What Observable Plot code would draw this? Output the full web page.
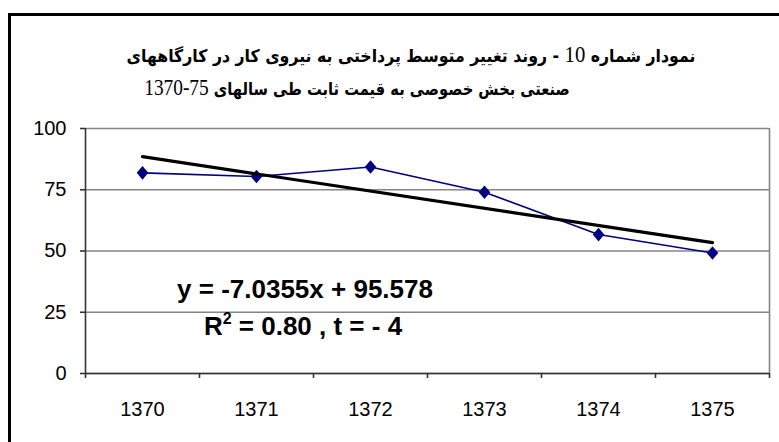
<!DOCTYPE html>
<html>
<head>
<meta charset="utf-8">
<script src="https://cdn.jsdelivr.net/npm/d3@7"></script>
<script src="https://cdn.jsdelivr.net/npm/@observablehq/plot@0.6"></script>
<style>
  html, body { margin: 0; padding: 0; background: #fff; overflow: hidden; }
  #wrap { position: relative; width: 779px; height: 442px; overflow: hidden; }
  #border { position: absolute; left: 8px; top: 13px; width: 800px; height: 460px; border: 3px solid #000; box-sizing: border-box; }
  #title { position: relative; height: 110px; }
  .tline { position: absolute; white-space: nowrap; direction: rtl;
           font-family: "DejaVu Sans", sans-serif; font-weight: bold; font-size: 17.5px; color: #000; }
  .num { font-family: "Liberation Serif", "DejaVu Serif", serif; font-weight: normal; font-size: 23px;
         direction: ltr; unicode-bidi: isolate; }
  .eq { position: absolute; transform: translate(-50%, -50%); white-space: nowrap;
        font-family: "Liberation Sans", Arial, sans-serif; font-weight: bold; font-size: 26px; color: #000; }
  .eq sup { font-size: 16px; vertical-align: 11px; line-height: 0; }
  #chart svg { display: block; }
</style>
</head>
<body>
<div id="wrap">
  <div id="border"></div>
  <div id="title"></div>
  <div id="chart"></div>
</div>
<script>
// ---- data ----
const years = [1370, 1371, 1372, 1373, 1374, 1375];
const payValues = [81.9, 80.4, 84.3, 74.0, 56.7, 49.2];
const trendYears = [1370, 1375];
const trendValues = [88.5, 53.4];
const yTicks = [0, 25, 50, 75, 100];
const categoryEdges = [1369.5, 1370.5, 1371.5, 1372.5, 1373.5, 1374.5, 1375.5];
const titleLine1 = ["نمودار شماره ", "10", " - روند تغییر متوسط پرداختی به نیروی کار در کارگاههای"];
const titleLine2 = ["صنعتی بخش خصوصی به قیمت ثابت طی سالهای ", "1370-75", ""];
const equationText = "y = -7.0355x + 95.578";
const r2Text = ["R", "2", " = 0.80 , t = - 4"];

// ---- title ----
const title = document.getElementById("title");
function addLine(parts, cx, cy, sx) {
  const d = document.createElement("div");
  d.className = "tline";
  d.style.left = cx + "px";
  d.style.top = cy + "px";
  d.style.transform = `translate(-50%, -50%) scaleX(${sx})`;
  const a = document.createElement("span"); a.textContent = parts[0];
  const n = document.createElement("span"); n.className = "num"; n.textContent = parts[1];
  const b = document.createElement("span"); b.textContent = parts[2];
  d.append(a, n, b);
  title.appendChild(d);
}
addLine(titleLine1, 411, 55, 0.9);
addLine(titleLine2, 357, 88, 0.84);

// ---- chart ----
const data = years.map((y, i) => ({year: y, value: payValues[i]}));
const trend = trendYears.map((y, i) => ({year: y, value: trendValues[i]}));

const diamond = {
  draw(ctx) {
    const w = 5.8, h = 6.8;
    ctx.moveTo(0, -h); ctx.lineTo(w, 0); ctx.lineTo(0, h); ctx.lineTo(-w, 0); ctx.closePath();
  }
};

const chart = Plot.plot({
  width: 779,
  height: 332,
  marginLeft: 85,
  marginRight: 10,
  marginTop: 18,
  marginBottom: 69,
  style: {fontFamily: "'Liberation Sans', Arial, sans-serif", fontSize: "20px", color: "#000", background: "transparent", overflow: "visible"},
  x: {domain: [d3.min(categoryEdges), d3.max(categoryEdges)]},
  y: {domain: [0, 100]},
  marks: [
    Plot.gridY(yTicks, {stroke: "#858585", strokeOpacity: 1, strokeWidth: 1.6}),
    Plot.ruleX([d3.max(categoryEdges)], {stroke: "#858585", strokeWidth: 1.6}),
    Plot.ruleX([d3.min(categoryEdges)], {stroke: "#333", strokeWidth: 1.6}),
    Plot.ruleY([0], {stroke: "#333", strokeWidth: 1.6}),
    Plot.axisY({ticks: yTicks, tickSize: 5, tickPadding: 14, label: null, stroke: "#333", strokeWidth: 1.6}),
    Plot.axisX({ticks: categoryEdges, tickSize: 5, tickFormat: () => "", label: null, stroke: "#333", strokeWidth: 1.6}),
    Plot.axisX({ticks: years, tickSize: 0, tickPadding: 28, tickFormat: d => String(d), label: null}),
    Plot.line(data, {x: "year", y: "value", stroke: "#000080", strokeWidth: 1.6}),
    Plot.dot(data, {x: "year", y: "value", symbol: diamond, fill: "#000080", stroke: "none"}),
    Plot.line(trend, {x: "year", y: "value", stroke: "#000", strokeWidth: 3.2})
  ]
});
document.getElementById("chart").appendChild(chart);

// ---- regression annotation ----
const wrap = document.getElementById("wrap");
const eq1 = document.createElement("div");
eq1.className = "eq"; eq1.style.left = "305px"; eq1.style.top = "289px";
eq1.textContent = equationText;
const eq2 = document.createElement("div");
eq2.className = "eq"; eq2.style.left = "303px"; eq2.style.top = "326px";
eq2.append(document.createTextNode(r2Text[0]));
const sup = document.createElement("sup"); sup.textContent = r2Text[1];
eq2.append(sup, document.createTextNode(r2Text[2]));
wrap.append(eq1, eq2);
</script>
</body>
</html>
